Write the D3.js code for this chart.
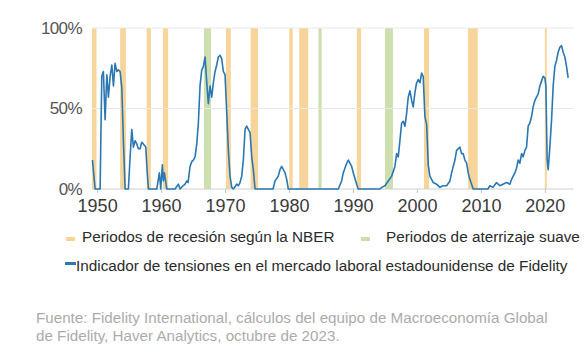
<!DOCTYPE html>
<html>
<head>
<meta charset="utf-8">
<script src="https://cdn.jsdelivr.net/npm/d3@7"></script>
<style>
  body { margin: 0; background: #fff; }
  svg { display: block; font-family: "Liberation Sans", Arial, sans-serif; }
</style>
</head>
<body>
<svg id="chart" width="586" height="354"></svg>
<script>
// NBER recessions (approx. start / end, decimal years)
const recessionStart = [1949.2, 1953.6, 1957.75, 1960.3, 1970.15, 1974.0, 1980.05, 1981.6, 1990.6, 2001.1, 2008.0, 2020.0];
const recessionEnd   = [1949.9, 1954.5, 1958.4, 1961.1, 1970.9, 1975.15, 1980.58, 1983.0, 1991.25, 2001.9, 2009.5, 2020.3];
// soft landings
const softStart = [1966.7, 1984.6, 1995.0];
const softEnd   = [1967.8, 1985.1, 1996.25];

// Fidelity labour market tension indicator (share, 0-1)
const tensionYears = [
  1949.27, 1949.45, 1949.69, 1950.47, 1950.73, 1950.98, 1951.25, 1951.52, 1951.77, 1952.03,
  1952.30, 1952.55, 1952.81, 1953.08, 1953.33, 1953.59, 1953.86, 1954.11, 1954.38, 1954.89,
  1955.16, 1955.42, 1955.67, 1955.94, 1956.20, 1956.45, 1956.72, 1956.98, 1957.23, 1957.61,
  1957.81, 1958.02, 1959.33, 1959.73, 1959.95, 1960.20, 1960.36, 1960.52, 1960.89, 1962.19,
  1962.70, 1962.97, 1963.44, 1963.75, 1964.02, 1964.22, 1964.53, 1964.80, 1965.05, 1965.31,
  1965.58, 1965.83, 1966.09, 1966.36, 1966.61, 1966.88, 1967.14, 1967.39, 1967.66, 1967.92,
  1968.17, 1968.44, 1968.70, 1968.95, 1969.22, 1969.48, 1969.73, 1970.00, 1970.27, 1970.52,
  1970.78, 1971.05, 1971.30, 1971.83, 1972.08, 1972.34, 1972.61, 1972.86, 1973.13, 1973.39,
  1973.64, 1973.91, 1974.17, 1974.42, 1974.69, 1977.50, 1977.81, 1978.33, 1978.59, 1978.86,
  1979.11, 1979.38, 1979.64, 1979.89, 1987.70, 1988.23, 1988.48, 1988.75, 1989.02, 1989.27,
  1989.53, 1989.80, 1990.05, 1990.58, 1990.83, 1994.22, 1994.48, 1995.00, 1995.52, 1996.05,
  1996.56, 1996.83, 1997.08, 1997.34, 1997.61, 1997.86, 1998.13, 1998.39, 1998.64, 1998.91,
  1999.17, 1999.42, 1999.69, 1999.95, 2000.20, 2000.47, 2000.73, 2000.98, 2001.25, 2001.52,
  2001.77, 2002.03, 2002.55, 2003.08, 2003.59, 2004.06, 2004.64, 2005.16, 2005.42, 2005.67,
  2005.94, 2006.20, 2006.72, 2006.98, 2007.23, 2007.50, 2007.77, 2008.02, 2008.28, 2008.80,
  2011.09, 2011.41, 2011.88, 2012.45, 2012.97, 2013.44, 2014.02, 2014.53, 2014.80, 2015.05,
  2015.31, 2015.58, 2015.83, 2016.09, 2016.36, 2016.61, 2016.88, 2017.14, 2017.39, 2017.66,
  2017.92, 2018.17, 2018.44, 2018.70, 2018.95, 2019.22, 2019.48, 2019.73, 2020.00, 2020.16,
  2020.36, 2020.52, 2020.78, 2021.05, 2021.30, 2021.56, 2021.83, 2022.08, 2022.34, 2022.61,
  2022.86, 2023.13, 2023.39, 2023.64
];
const tensionValues = [
  0.18, 0.10, 0.00, 0.00, 0.70, 0.73, 0.43, 0.71, 0.57, 0.70,
  0.77, 0.64, 0.78, 0.73, 0.74, 0.73, 0.63, 0.30, 0.00, 0.00,
  0.20, 0.37, 0.26, 0.30, 0.28, 0.25, 0.25, 0.29, 0.28, 0.26,
  0.12, 0.00, 0.00, 0.10, 0.00, 0.15, 0.05, 0.10, 0.00, 0.00,
  0.03, 0.00, 0.02, 0.03, 0.05, 0.04, 0.14, 0.17, 0.18, 0.20,
  0.28, 0.41, 0.64, 0.74, 0.76, 0.82, 0.66, 0.53, 0.64, 0.57,
  0.66, 0.73, 0.77, 0.82, 0.83, 0.81, 0.73, 0.71, 0.47, 0.24,
  0.08, 0.01, 0.00, 0.03, 0.02, 0.04, 0.08, 0.18, 0.37, 0.39,
  0.37, 0.35, 0.20, 0.12, 0.00, 0.00, 0.05, 0.08, 0.12, 0.14,
  0.12, 0.10, 0.06, 0.00, 0.00, 0.05, 0.10, 0.13, 0.16, 0.18,
  0.16, 0.14, 0.10, 0.03, 0.00, 0.00, 0.01, 0.02, 0.05, 0.08,
  0.14, 0.22, 0.20, 0.30, 0.41, 0.42, 0.39, 0.47, 0.57, 0.61,
  0.55, 0.51, 0.60, 0.66, 0.68, 0.66, 0.72, 0.70, 0.45, 0.40,
  0.15, 0.08, 0.04, 0.03, 0.01, 0.02, 0.02, 0.05, 0.10, 0.14,
  0.18, 0.24, 0.26, 0.22, 0.22, 0.18, 0.16, 0.10, 0.06, 0.00,
  0.00, 0.02, 0.01, 0.04, 0.02, 0.03, 0.04, 0.03, 0.06, 0.08,
  0.10, 0.13, 0.18, 0.16, 0.22, 0.20, 0.24, 0.26, 0.39, 0.41,
  0.45, 0.51, 0.55, 0.57, 0.59, 0.64, 0.67, 0.70, 0.69, 0.64,
  0.18, 0.12, 0.26, 0.43, 0.64, 0.76, 0.80, 0.85, 0.88, 0.89,
  0.85, 0.82, 0.76, 0.69
];

const xTicks = [1950, 1960, 1970, 1980, 1990, 2000, 2010, 2020];
const yTicks = [0, 0.5, 1];

const legendRecession = "Periodos de recesión según la NBER";
const legendSoft = "Periodos de aterrizaje suave";
const legendLine = "Indicador de tensiones en el mercado laboral estadounidense de Fidelity";
const sourceLines = [
  "Fuente: Fidelity International, cálculos del equipo de Macroeconomía Global",
  "de Fidelity, Haver Analytics, octubre de 2023."
];

const svg = d3.select("#chart");

const x = d3.scaleLinear().domain([1949.2, 2024.4]).range([92, 573]);
const y = d3.scaleLinear().domain([0, 1]).range([189, 28]);

// bands
const bands = svg.append("g").attr("class", "bands");
bands.selectAll(".recession")
  .data(recessionStart.map((s, i) => [s, recessionEnd[i]]))
  .enter()
  .append("rect")
  .attr("class", "recession")
  .attr("x", (d) => x(d[0]))
  .attr("width", (d) => Math.max(1, x(d[1]) - x(d[0])))
  .attr("y", y(1))
  .attr("height", y(0) - y(1))
  .style("fill", "#f7d49a");

bands.selectAll(".soft")
  .data(softStart.map((s, i) => [s, softEnd[i]]))
  .enter()
  .append("rect")
  .attr("class", "soft")
  .attr("x", (d) => x(d[0]))
  .attr("width", (d) => x(d[1]) - x(d[0]))
  .attr("y", y(1))
  .attr("height", y(0) - y(1))
  .style("fill", "#cddfae");

// gridlines
svg.append("g")
  .selectAll("line")
  .data(yTicks)
  .enter()
  .append("line")
  .attr("x1", x.range()[0])
  .attr("x2", x.range()[1])
  .attr("y1", (d) => y(d))
  .attr("y2", (d) => y(d))
  .style("stroke", (d) => (d === 0 ? "#cfcfcf" : "#e8e8e8"))
  .style("stroke-width", 1);

// x axis
const xAxis = svg.append("g")
  .attr("transform", "translate(0," + y(0) + ")")
  .call(d3.axisBottom(x).tickValues(xTicks).tickFormat(d3.format("d")).tickSize(4).tickPadding(6));
xAxis.select(".domain").remove();
xAxis.selectAll(".tick line").style("stroke", "#c4c4c4");
xAxis.selectAll(".tick text")
  .style("font-size", "18px")
  .style("fill", "#3a3a3a")
  .attr("font-family", null);

// y axis
const yAxis = svg.append("g")
  .attr("transform", "translate(84,0)")
  .call(d3.axisLeft(y).tickValues(yTicks).tickFormat(d3.format(".0%")).tickSize(0).tickPadding(2));
yAxis.select(".domain").remove();
yAxis.selectAll(".tick text")
  .style("font-size", "17px")
  .style("fill", "#555")
  .style("letter-spacing", "-0.6px")
  .attr("font-family", null);

// line
const line = d3.line()
  .x((d) => x(d[0]))
  .y((d) => y(d[1]));
svg.append("path")
  .datum(tensionYears.map((t, i) => [t, tensionValues[i]]))
  .attr("d", line)
  .style("fill", "none")
  .style("stroke", "#2a77b3")
  .style("stroke-width", 1.6)
  .style("stroke-linejoin", "round");

// legend
const legend = svg.append("g").attr("class", "legend").style("font-size", "15.3px").style("fill", "#2b2b2b");
legend.append("rect").attr("x", 66).attr("y", 237).attr("width", 9).attr("height", 4).style("fill", "#f7d49a");
legend.append("text").attr("x", 82).attr("y", 242).text(legendRecession);
legend.append("rect").attr("x", 361).attr("y", 237).attr("width", 9).attr("height", 4).style("fill", "#cddfae");
legend.append("text").attr("x", 386).attr("y", 242).text(legendSoft);
legend.append("rect").attr("x", 65).attr("y", 262).attr("width", 11).attr("height", 3).style("fill", "#2a77b3");
legend.append("text").attr("x", 76).attr("y", 271).text(legendLine);

// source
svg.append("g")
  .selectAll("text")
  .data(sourceLines)
  .enter()
  .append("text")
  .attr("x", 36)
  .attr("y", (d, i) => 323 + i * 18)
  .text((d) => d)
  .style("font-size", "15.2px")
  .style("fill", "#ababab");
</script>
</body>
</html>
